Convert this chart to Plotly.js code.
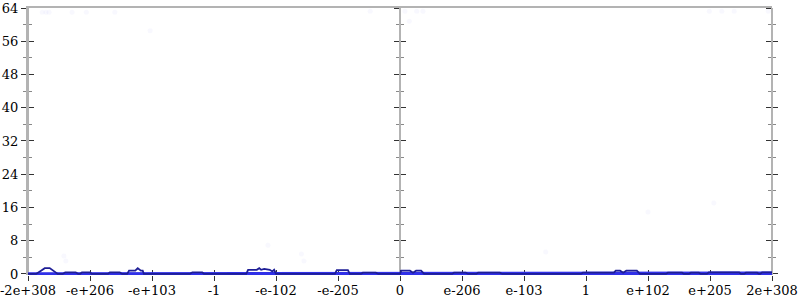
<!DOCTYPE html>
<html>
<head>
<meta charset="utf-8">
<script src="https://cdn.plot.ly/plotly-3.0.1.min.js"></script>
<style>html,body{margin:0;padding:0;background:#fff}#chart{width:800px;height:300px}</style>
</head>
<body>
<div id="chart"></div>
<script>
// x positions are in "tick units": one unit per labelled tick, 0 at the centre
const tickPositions = [-6,-5,-4,-3,-2,-1,0,1,2,3,4,5,6];
const tickLabels = ["-2e+308","-e+206","-e+103","-1","-e-102","-e-205","0","e-206","e-103","1","e+102","e+205","2e+308"];

// dark outline series (x in tick units, y = count)
const seriesAX = [-6.00,-5.87,-5.79,-5.73,-5.65,-5.56,-5.52,-5.44,-5.40,-5.23,-5.19,-5.16,-5.13,-5.00,-4.97,-4.71,-4.68,-4.52,-4.48,-4.40,-4.37,-4.27,-4.23,-4.18,-4.15,-4.13,-4.10,-3.39,-3.35,-3.19,-3.16,-2.48,-2.45,-2.31,-2.27,-2.24,-2.19,-2.13,-2.10,-2.06,-2.03,-2.00,-1.05,-1.02,-0.84,-0.81,-0.63,-0.60,-0.39,-0.35,0.00,0.02,0.16,0.21,0.26,0.34,0.39,0.84,0.87,1.06,1.10,1.23,1.26,1.61,1.65,2.92,2.95,3.11,3.15,3.18,3.45,3.48,3.55,3.60,3.65,3.82,3.87,4.29,4.32,4.55,4.58,4.66,4.69,4.82,4.85,4.95,4.98,5.47,5.50,5.55,5.58,5.76,5.79,5.81,5.84,6.00];
const seriesAY = [0,0,0.8,1.4,1.4,0.5,0,0,0.4,0.4,0,0,0.4,0.4,0,0,0.4,0.4,0,0,0.8,0.8,1.4,0.8,0.8,0,0,0,0.4,0.4,0,0,1.0,1.0,1.4,1.0,1.2,1.0,1.0,0.6,1.0,0,0,0.9,0.9,0,0,0.3,0.3,0,0,0.8,0.8,0.3,0.8,0.8,0,0,0.3,0.3,0,0,0.3,0.3,0,0,0.3,0.3,0.2,0.3,0.3,0.8,0.8,0.3,0.8,0.8,0,0,0.3,0.3,0,0,0.3,0.3,0,0,0.4,0.4,0,0,0.3,0.3,0,0,0.4,0.4];

// bright baseline series
const seriesBX = [-6.00,-3.39,-3.35,-3.19,-3.16,0.84,0.87,1.06,1.10,2.92,2.95,3.45,3.48,4.95,4.98,5.47,5.50,5.55,5.58,5.76,5.79,6.00];
const seriesBY = [0,0,0.2,0.2,0,0,0.2,0.2,0,0,0.2,0.2,0,0,0.2,0.2,0,0,0.2,0.2,0,0.2];

// faint scattered points
const faintX = [-5.77,-5.71,-5.66,-5.29,-5.06,-4.60,-4.03,-0.48,0.08,0.27,0.37,0.15,4.99,5.19,5.39,5.94,-5.42,-5.39,-2.13,-1.55,-1.59,2.35,4.00,5.06];
const faintY = [63.0,63.0,63.0,63.0,63.0,63.0,58.5,63.2,63.2,63.2,63.2,60.8,63.2,63.2,63.2,63.2,4.3,3.1,6.9,3.1,4.8,5.3,14.9,17.1];

const FONT = 'DejaVu Serif, Liberation Serif, serif';
const axisLine = '#b3b3b3';
const tickCol = '#333333';
const minorCol = '#888888';
const Y_RANGE = [-0.25, 64];

const traces = [
  {x: faintX, y: faintY, type: 'scatter', mode: 'markers', hoverinfo: 'skip',
   marker: {size: 5, color: 'rgba(110,110,230,0.05)', line: {width: 0}}, showlegend: false},
  {x: seriesBX, y: seriesBY, type: 'scatter', mode: 'lines', line: {color: '#3030e8', width: 3.5}, showlegend: false},
  {x: seriesAX, y: seriesAY, type: 'scatter', mode: 'lines', line: {color: '#1e1e96', width: 1.8}, showlegend: false}
];

function yAx(extra) {
  return Object.assign({
    range: Y_RANGE, dtick: 8, tick0: 0, showgrid: false, zeroline: false,
    ticklen: 5, tickwidth: 1, tickcolor: tickCol,
    showline: true, linecolor: axisLine, linewidth: 2, layer: 'below traces',
    showticklabels: false, fixedrange: true
  }, extra);
}
function minor(dir) { return {dtick: 4, tick0: 0, ticklen: 3, tickwidth: 1, tickcolor: minorCol, ticks: dir}; }

const layout = {
  width: 800, height: 300,
  margin: {l: 28, r: 28, t: 8, b: 25},
  paper_bgcolor: '#ffffff', plot_bgcolor: '#ffffff',
  showlegend: false,
  font: {family: FONT, size: 13, color: '#000000'},
  xaxis: {
    range: [-6, 6], tickmode: 'array', tickvals: tickPositions, ticktext: tickLabels,
    ticks: 'outside', ticklen: 5, tickwidth: 1, tickcolor: tickCol, ticklabelstandoff: -2,
    showgrid: false, zeroline: false, showline: false,
    fixedrange: true, layer: 'below traces', ticklabeloverflow: 'allow',
    tickfont: {family: FONT, size: 13, color: '#000'}
  },
  xaxis2: {
    range: [-6, 6], overlaying: 'x', anchor: 'y', side: 'bottom', tickmode: 'array', tickvals: tickPositions,
    ticks: 'inside', ticklen: 5, tickwidth: 1, tickcolor: tickCol, showticklabels: false,
    showgrid: false, zeroline: false, showline: false, fixedrange: true, layer: 'below traces'
  },
  xaxis3: {
    range: [-6, 6], overlaying: 'x', anchor: 'y', side: 'top', ticks: '', showticklabels: false,
    showgrid: false, zeroline: false, showline: true, linecolor: axisLine, linewidth: 2, fixedrange: true
  },
  yaxis: yAx({ticks: 'outside', minor: minor('outside'), showticklabels: true, ticklabeloverflow: 'allow',
    tickfont: {family: FONT, size: 13, color: '#000'}}),
  yaxis2: yAx({overlaying: 'y', anchor: 'free', position: 0, side: 'left', ticks: 'inside', minor: minor('inside')}),
  yaxis3: yAx({overlaying: 'y', anchor: 'free', position: 0.5, side: 'left', ticks: 'outside', minor: minor('outside')}),
  yaxis4: yAx({overlaying: 'y', anchor: 'free', position: 0.5, side: 'left', ticks: 'inside', minor: minor('inside')}),
  yaxis5: yAx({overlaying: 'y', anchor: 'free', position: 1, side: 'left', ticks: 'outside', minor: minor('outside')}),
  yaxis6: yAx({overlaying: 'y', anchor: 'free', position: 1, side: 'left', ticks: 'inside', minor: minor('inside')})
};

// empty traces so the overlay axes are drawn
const dummies = [
  {x: [null], y: [null], xaxis: 'x2', yaxis: 'y', hoverinfo: 'skip', showlegend: false},
  {x: [null], y: [null], xaxis: 'x3', yaxis: 'y', hoverinfo: 'skip', showlegend: false},
  {x: [null], y: [null], yaxis: 'y2', hoverinfo: 'skip', showlegend: false},
  {x: [null], y: [null], yaxis: 'y3', hoverinfo: 'skip', showlegend: false},
  {x: [null], y: [null], yaxis: 'y4', hoverinfo: 'skip', showlegend: false},
  {x: [null], y: [null], yaxis: 'y5', hoverinfo: 'skip', showlegend: false},
  {x: [null], y: [null], yaxis: 'y6', hoverinfo: 'skip', showlegend: false}
];

Plotly.newPlot('chart', dummies.concat(traces), layout, {displayModeBar: false, staticPlot: true});
</script>
</body>
</html>
